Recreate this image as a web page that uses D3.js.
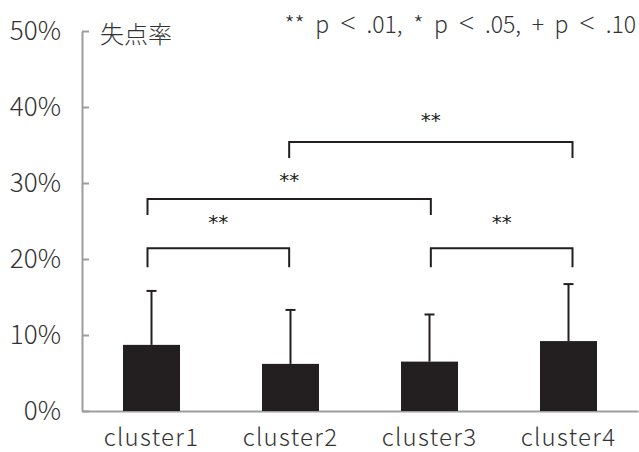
<!DOCTYPE html>
<html>
<head>
<meta charset="utf-8">
<script src="https://cdn.jsdelivr.net/npm/d3@7"></script>
<style>
  html, body { margin: 0; padding: 0; background: #fff; }
  svg { display: block; }
  text { font-family: "Noto Sans CJK JP", "Noto Sans", sans-serif; font-weight: 300; fill: #333; }
</style>
</head>
<body>
<svg id="chart" width="639" height="452"></svg>
<script>
// Goal-conceded rate by cluster (mean and SD, in %)
const categories = ["cluster1", "cluster2", "cluster3", "cluster4"];
const means = [8.7, 6.2, 6.5, 9.2];
const sds = [7.1, 7.1, 6.2, 7.5];
const yTicks = [0, 10, 20, 30, 40, 50];

// Significance brackets: compared pairs, bracket level, leg end, star level
const pairs = [[1, 3], [0, 2], [0, 1], [2, 3]];
const bracketLevels = [35.4, 27.9, 21.4, 21.4];
const legEnds = [33.3, 25.8, 18.9, 18.9];
const starLevels = [38.3, 30.4, 24.9, 24.9];
const marks = ["**", "**", "**", "**"];

const title = "失点率";
const note = "** p < .01, * p < .05, + p < .10";

const svg = d3.select("#chart");
const plot = { left: 82, right: 638, top: 31, bottom: 411 };

const x = d3.scaleBand().domain(categories).range([plot.left, plot.right]).padding(0);
const y = d3.scaleLinear().domain([0, 50]).range([plot.bottom, plot.top]);
const centre = c => x(c) + x.bandwidth() / 2;
const barW = x.bandwidth() * 0.41;

// bracket anchors sit a little wider than the bar centres
const xb = d3.scalePoint().domain(categories)
  .range([centre(categories[0]) - 4, centre(categories[3]) + 4]);

const ink = "#231f20";
const axisGrey = "#9d9d9d";
const labelFont = '"Noto Sans CJK JP", "Noto Sans", sans-serif';

// y axis
const yAxis = svg.append("g")
  .attr("transform", `translate(${plot.left},0)`)
  .call(d3.axisLeft(y).tickValues(yTicks).tickFormat(d => d + "%")
    .tickSizeInner(-7).tickSizeOuter(0).tickPadding(21));
yAxis.select(".domain").attr("stroke", axisGrey).attr("stroke-width", 2);
yAxis.selectAll(".tick line").attr("stroke", axisGrey).attr("stroke-width", 2);
yAxis.selectAll(".tick text")
  .style("font-family", labelFont).style("font-weight", 300)
  .attr("font-size", 26).attr("fill", "#333");

// x axis
const xAxis = svg.append("g")
  .attr("transform", `translate(0,${plot.bottom})`)
  .call(d3.axisBottom(x).tickSize(0));
xAxis.select(".domain").attr("stroke", axisGrey).attr("stroke-width", 2);
xAxis.selectAll(".tick text")
  .attr("y", 35).attr("dy", 0)
  .style("font-family", labelFont).style("font-weight", 300)
  .style("letter-spacing", "1.3px")
  .attr("font-size", 24).attr("fill", "#333");

// bars
svg.append("g").selectAll("rect")
  .data(categories)
  .join("rect")
  .attr("x", c => centre(c) - barW / 2)
  .attr("width", barW)
  .attr("y", (c, i) => y(means[i]))
  .attr("height", (c, i) => y(0) - y(means[i]))
  .attr("fill", ink);

// upper error bars
const eb = svg.append("g").attr("stroke", ink).attr("stroke-width", 2);
categories.forEach((c, i) => {
  const cx = centre(c), yTop = y(means[i] + sds[i]);
  eb.append("line").attr("x1", cx).attr("x2", cx).attr("y1", y(means[i])).attr("y2", yTop);
  eb.append("line").attr("x1", cx - 5).attr("x2", cx + 5).attr("y1", yTop).attr("y2", yTop);
});

// significance brackets
const br = svg.append("g");
pairs.forEach(([a, b], i) => {
  const x1 = xb(categories[a]), x2 = xb(categories[b]);
  const yl = y(bracketLevels[i]), ye = y(legEnds[i]);
  br.append("path")
    .attr("d", `M${x1},${ye}V${yl}H${x2}V${ye}`)
    .attr("fill", "none").attr("stroke", ink).attr("stroke-width", 2);
  br.append("text")
    .attr("x", (x1 + x2) / 2).attr("y", y(starLevels[i]))
    .attr("text-anchor", "middle").attr("dominant-baseline", "central")
    .attr("font-size", 20).style("fill", ink).style("font-weight", 400)
    .style("font-family", '"DejaVu Sans", sans-serif')
    .text(marks[i]);
});

// title
svg.append("text").attr("x", 100).attr("y", 43)
  .attr("font-size", 24).text(title);

// significance note: wide spacing between the terms, "<" set in a wider face
const noteText = svg.append("text").attr("x", 636).attr("y", 33)
  .attr("text-anchor", "end")
  .attr("font-size", 23)
  .style("word-spacing", "5.5px");
note.split(/(<)/).forEach(part => {
  const t = noteText.append("tspan").text(part);
  if (part === "<") {
    t.style("font-family", '"Open Sans", "Lato", sans-serif')
      .style("font-weight", 300).attr("font-size", 28);
  }
});
</script>
</body>
</html>
